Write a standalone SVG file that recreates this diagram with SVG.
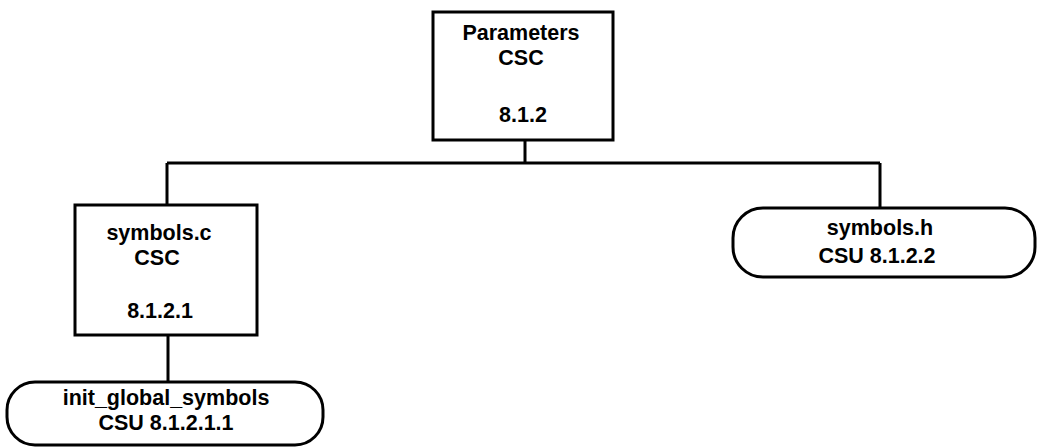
<svg xmlns="http://www.w3.org/2000/svg" width="1037" height="448" viewBox="0 0 1037 448">
<style>
.box{fill:#fff;stroke:#000;stroke-width:3}
.ln{fill:none;stroke:#000;stroke-width:3}
text{font-family:"Liberation Sans",Arial,sans-serif;font-size:21.5px;font-weight:bold;text-anchor:middle;fill:#000}
</style>
<rect width="1037" height="448" fill="#fff"/>
<g id="connectors">
<path class="ln" d="M525 140V163M167 163H880M167 163V205M880 163V208M168 335V382"/>
</g>
<g id="parameters">
<rect class="box" x="433" y="12" width="180" height="128"/>
<text x="521" y="40">Parameters</text>
<text x="521" y="65">CSC</text>
<text x="523" y="122">8.1.2</text>
</g>
<g id="symbols_c">
<rect class="box" x="75" y="205" width="182" height="130"/>
<text x="159" y="240">symbols.c</text>
<text x="157" y="265">CSC</text>
<text x="160" y="318">8.1.2.1</text>
</g>
<g id="symbols_h">
<rect class="box" x="733" y="208" width="302" height="69" rx="30" ry="30"/>
<text x="880" y="235">symbols.h</text>
<text x="877" y="263">CSU 8.1.2.2</text>
</g>
<g id="init_global_symbols">
<rect class="box" x="7" y="382" width="316" height="63" rx="28" ry="28"/>
<text x="166" y="405">init_global_symbols</text>
<text x="166" y="430">CSU 8.1.2.1.1</text>
</g>
</svg>
